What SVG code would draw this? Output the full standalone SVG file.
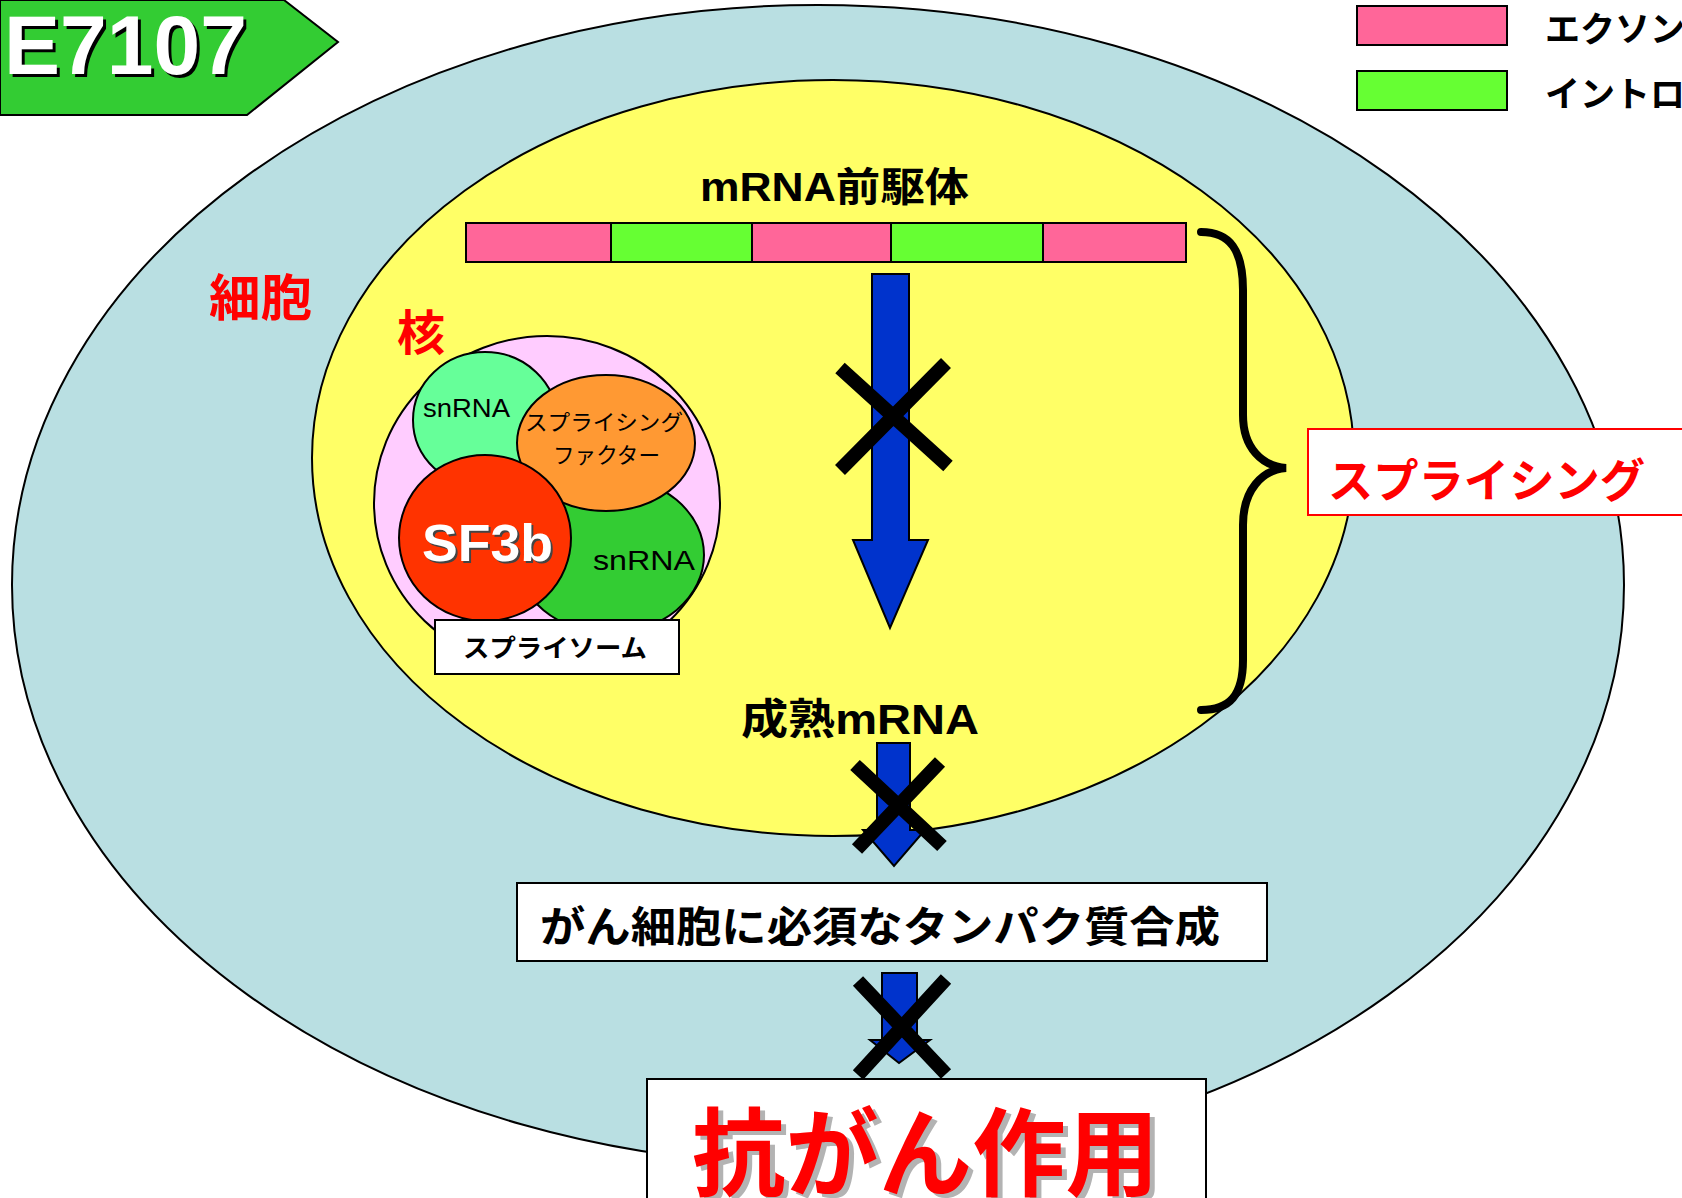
<svg xmlns="http://www.w3.org/2000/svg" width="1682" height="1198" viewBox="0 0 1682 1198">
  <style>
    .jp { font-family: "Liberation Sans", "Noto Sans CJK JP", sans-serif; }
    .bold { font-weight: bold; }
    .red { fill: #ff0000; }
    .outline { stroke: #000000; stroke-width: 2; }
    .cross { stroke: #000000; stroke-width: 14; fill: none; }
    .arrow { fill: #0033cc; stroke: #000000; stroke-width: 2; stroke-linejoin: miter; }
  </style>

  <rect x="0" y="0" width="1682" height="1198" fill="#ffffff"/>

  <!-- cell -->
  <g id="cell">
    <ellipse cx="818" cy="585" rx="806" ry="580" fill="#b9dfe2" class="outline"/>
    <text x="209" y="316" class="jp bold red" font-size="50" textLength="103" lengthAdjust="spacingAndGlyphs">細胞</text>
  </g>

  <!-- nucleus -->
  <g id="nucleus">
    <ellipse cx="833" cy="458" rx="521" ry="378" fill="#ffff66" class="outline"/>
    <text x="397" y="350" class="jp bold red" font-size="48">核</text>
  </g>

  <!-- title banner -->
  <g id="banner">
    <polygon points="0,0 284,0 338,42 247,115 0,115" fill="#33cc33" class="outline"/>
    <text x="7" y="77" font-family="Liberation Sans, Arial, sans-serif" font-weight="bold" font-size="84" fill="#000000">E7107</text>
    <text x="4" y="74" font-family="Liberation Sans, Arial, sans-serif" font-weight="bold" font-size="84" fill="#ffffff">E7107</text>
  </g>

  <!-- legend -->
  <g id="legend">
    <rect x="1357" y="6" width="150" height="39" fill="#ff6699" class="outline"/>
    <text x="1545" y="42" class="jp bold" font-size="35">エクソン</text>
    <rect x="1357" y="71" width="150" height="39" fill="#66ff33" class="outline"/>
    <text x="1545" y="107" class="jp bold" font-size="35">イントロン</text>
  </g>

  <!-- pre-mRNA -->
  <g id="pre-mrna">
    <text x="700" y="201" class="jp bold" font-size="40" textLength="269" lengthAdjust="spacingAndGlyphs">mRNA前駆体</text>
    <rect x="466" y="223" width="145" height="39" fill="#ff6699" class="outline"/>
    <rect x="611" y="223" width="141" height="39" fill="#66ff33" class="outline"/>
    <rect x="752" y="223" width="139" height="39" fill="#ff6699" class="outline"/>
    <rect x="891" y="223" width="152" height="39" fill="#66ff33" class="outline"/>
    <rect x="1043" y="223" width="143" height="39" fill="#ff6699" class="outline"/>
  </g>

  <!-- spliceosome -->
  <g id="spliceosome">
    <ellipse cx="547" cy="503" rx="173" ry="167" fill="#ffccff" class="outline"/>
    <ellipse cx="485" cy="420" rx="72" ry="68" fill="#66ff99" class="outline"/>
    <ellipse cx="610" cy="555" rx="94" ry="78" fill="#33cc33" class="outline"/>
    <ellipse cx="606" cy="443" rx="89" ry="68" fill="#ff9933" class="outline"/>
    <ellipse cx="485" cy="538" rx="86" ry="83" fill="#ff3300" class="outline"/>
    <text x="423" y="417" font-family="Liberation Sans, Arial, sans-serif" font-size="26" textLength="87" lengthAdjust="spacingAndGlyphs">snRNA</text>
    <text x="593" y="570" font-family="Liberation Sans, Arial, sans-serif" font-size="28" textLength="102" lengthAdjust="spacingAndGlyphs">snRNA</text>
    <text x="525" y="430" class="jp" font-size="22" textLength="158" lengthAdjust="spacingAndGlyphs">スプライシング</text>
    <text x="553" y="463" class="jp" font-size="22" textLength="107" lengthAdjust="spacingAndGlyphs">ファクター</text>
    <text x="424" y="563" font-family="Liberation Sans, Arial, sans-serif" font-weight="bold" font-size="52" fill="#444444" textLength="131" lengthAdjust="spacingAndGlyphs">SF3b</text>
    <text x="422" y="561" font-family="Liberation Sans, Arial, sans-serif" font-weight="bold" font-size="52" fill="#ffffff" textLength="131" lengthAdjust="spacingAndGlyphs">SF3b</text>
    <rect x="435" y="620" width="244" height="54" fill="#ffffff" class="outline"/>
    <text x="463" y="657" class="jp bold" font-size="25" textLength="184" lengthAdjust="spacingAndGlyphs">スプライソーム</text>
  </g>

  <!-- mature mRNA -->
  <g id="mature-mrna">
    <text x="741" y="734" class="jp bold" font-size="42" textLength="238" lengthAdjust="spacingAndGlyphs">成熟mRNA</text>
  </g>

  <!-- splicing label -->
  <g id="splicing">
    <rect x="1308" y="429" width="390" height="86" fill="#ffffff" stroke="#ff0000" stroke-width="2"/>
    <text x="1328" y="497" class="jp bold red" font-size="46" textLength="317" lengthAdjust="spacingAndGlyphs">スプライシング</text>
  </g>

  <!-- protein synthesis -->
  <g id="protein">
    <rect x="517" y="883" width="750" height="78" fill="#ffffff" class="outline"/>
    <text x="540" y="942" class="jp bold" font-size="42" textLength="680" lengthAdjust="spacingAndGlyphs">がん細胞に必須なタンパク質合成</text>
  </g>

  <!-- anti-cancer effect -->
  <g id="effect">
    <rect x="647" y="1079" width="559" height="140" fill="#ffffff" class="outline"/>
    <text x="697" y="1192" class="jp bold" font-size="96" fill="#b3b3b3" textLength="467" lengthAdjust="spacingAndGlyphs">抗がん作用</text>
    <text x="692" y="1188" class="jp bold red" font-size="96" textLength="467" lengthAdjust="spacingAndGlyphs">抗がん作用</text>
  </g>

  <!-- connectors: arrows, blocking crosses, brace -->
  <g id="connectors">
    <polygon class="arrow" points="872,274 909,274 909,540 928,540 890,628 853,540 872,540"/>
    <path class="cross" d="M840,368 L948,466 M946,363 L840,470"/>

    <polygon class="arrow" points="877,743 910,743 910,830 925,830 894,866 863,830 877,830"/>
    <path class="cross" d="M855,765 L942,846 M940,762 L857,849"/>

    <polygon class="arrow" points="882,973 917,973 917,1040 930,1040 899,1063 870,1040 882,1040"/>
    <path class="cross" d="M858,981 L946,1074 M946,979 L858,1075"/>

    <path d="M1201,232 C1230,232 1243,250 1243,290 L1243,415 C1243,448 1262,466 1286,468 C1262,470 1243,490 1243,525 L1243,660 C1243,695 1230,710 1201,710" fill="none" stroke="#000000" stroke-width="8" stroke-linecap="round"/>
  </g>
</svg>
